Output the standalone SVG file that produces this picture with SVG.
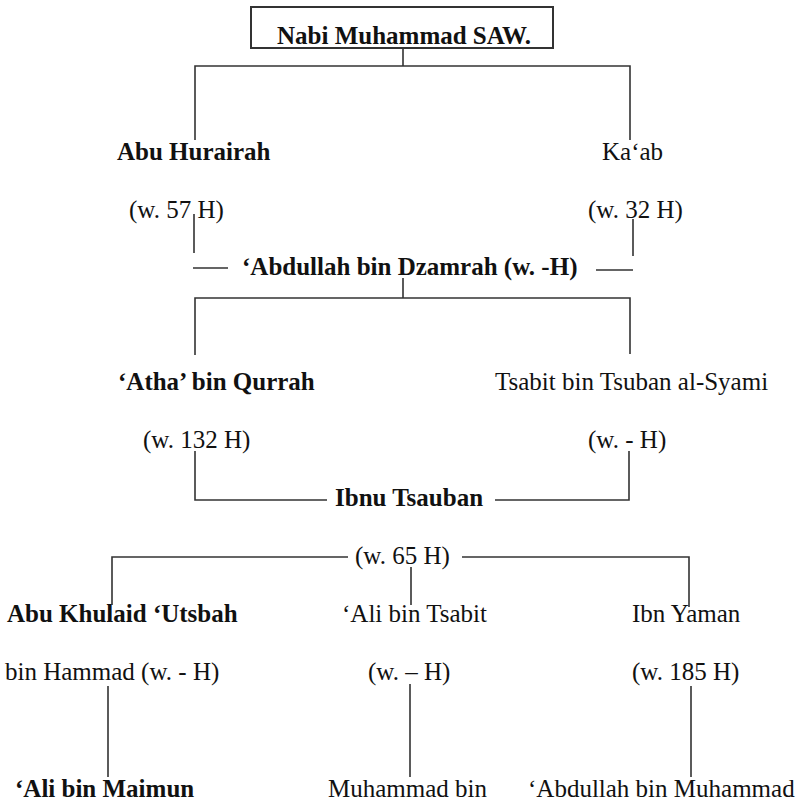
<svg xmlns="http://www.w3.org/2000/svg" width="802" height="801" viewBox="0 0 802 801">
<style>
text{font-family:"Liberation Serif","Times New Roman",serif;font-size:25px;fill:#111}
.b{font-weight:bold}
.ln{stroke:#333;stroke-width:1.6;fill:none}
</style>
<rect width="802" height="801" fill="#fff"/>
<g id="connectors" class="ln">
<path d="M403,48V66M195,140V66H630V140"/>
<path d="M194,214V253M193,268H228M633,219V256M596,270H633"/>
<path d="M403,278V298M195,355V298H630V354"/>
<path d="M195,451V500H327M495,500H629V451"/>
<path d="M112,605V557H348M462,557H689V607M411,567V605"/>
<path d="M108,686V777M410,684V777M691,686V777"/>
</g>
<g id="nabi"><rect x="251" y="7" width="302" height="41" fill="none" stroke="#333" stroke-width="2"/><text class="b" x="277" y="44">Nabi Muhammad SAW.</text></g>
<g id="abu-hurairah"><text class="b" x="117" y="160">Abu Hurairah</text><text x="129" y="218">(w. 57 H)</text></g>
<g id="kaab"><text x="602" y="160">Ka‘ab</text><text x="588" y="218">(w. 32 H)</text></g>
<g id="abdullah-dzamrah"><text class="b" x="242" y="275">‘Abdullah bin Dzamrah (w. -H)</text></g>
<g id="atha"><text class="b" x="118" y="390">‘Atha’ bin Qurrah</text><text x="143" y="448">(w. 132 H)</text></g>
<g id="tsabit"><text x="495" y="390">Tsabit bin Tsuban al-Syami</text><text x="588" y="448">(w. - H)</text></g>
<g id="ibnu-tsauban"><text class="b" x="335" y="506">Ibnu Tsauban</text><text x="355" y="564">(w. 65 H)</text></g>
<g id="abu-khulaid"><text class="b" x="7" y="622">Abu Khulaid ‘Utsbah</text><text x="5" y="680">bin Hammad (w. - H)</text></g>
<g id="ali-tsabit"><text x="342" y="622">‘Ali bin Tsabit</text><text x="368" y="680">(w. – H)</text></g>
<g id="ibn-yaman"><text x="632" y="622">Ibn Yaman</text><text x="632" y="680">(w. 185 H)</text></g>
<g id="ali-maimun"><text class="b" x="15" y="797">‘Ali bin Maimun</text></g>
<g id="muhammad-bin"><text x="328" y="797">Muhammad bin</text></g>
<g id="abdullah-muhammad"><text x="528" y="797">‘Abdullah bin Muhammad</text></g>
</svg>
